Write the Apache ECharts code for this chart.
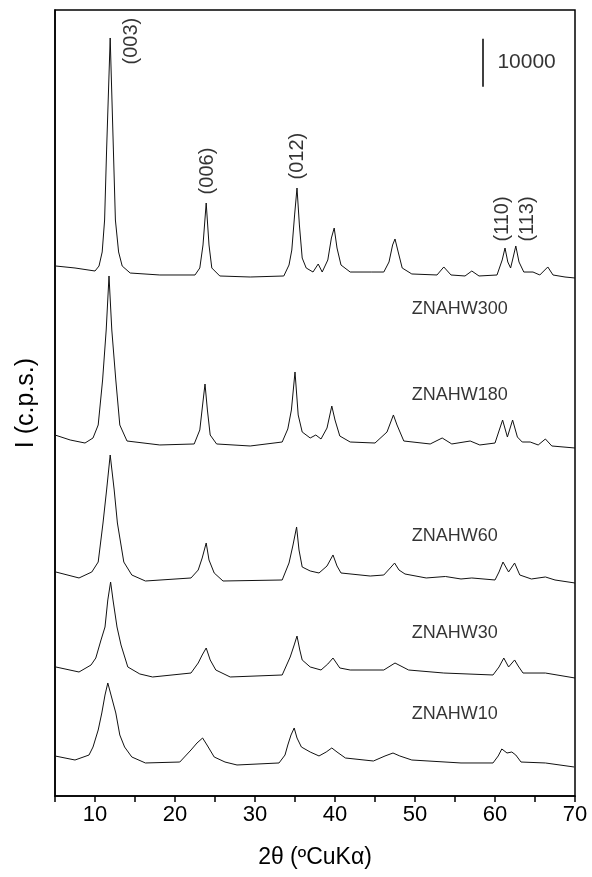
<!DOCTYPE html>
<html>
<head>
<meta charset="utf-8">
<title>XRD ZNAHW</title>
<style>
  html, body { margin: 0; padding: 0; background: #fff; }
  #chart { width: 592px; height: 877px; }
</style>
</head>
<body>
<div id="chart"></div>
<script src="https://cdn.jsdelivr.net/npm/echarts@6/dist/echarts.min.js"></script>
<script>
// [2theta, intensity c.p.s.], curves are stacked with offsets as plotted
const znahw300 = [
  [5.0,110600],[7.5,110170],[10.0,109540],[10.5,110580],[10.9,113510],[11.2,120180],[11.45,134790],
  [11.9,158160],[12.3,134790],[12.55,120180],[12.95,113510],[13.4,110580],[14.4,109120],[18.1,108710],
  [22.5,108710],[23.1,110170],[23.5,114970],[23.9,123730],[24.25,114970],[24.6,110170],[25.6,108500],
  [29.4,108290],[33.6,108500],[34.25,110790],[34.6,113920],[34.95,121230],[35.25,126860],[35.55,119140],
  [35.9,112250],[36.4,110170],[37.25,109330],[37.9,111000],[38.4,109330],[39.1,111840],[39.55,116430],
  [39.9,118510],[40.25,114340],[40.75,110790],[41.9,109330],[44.6,109330],[46.1,109330],[46.75,111420],
  [47.2,114970],[47.5,116220],[47.9,113510],[48.4,110170],[49.6,108920],[52.75,108710],[53.6,110380],
  [54.5,108710],[56.25,108500],[57.1,109540],[58.0,108500],[60.25,108710],[60.9,111840],[61.25,114340],
  [61.6,111420],[61.95,110170],[62.25,112250],[62.6,114760],[63.0,111420],[63.6,109330],[64.75,109330],
  [65.6,108710],[66.6,110380],[67.25,108710],[68.75,108290],[70.0,108080]
];
const znahw180 = [
  [5.0,75320],[6.9,74280],[8.75,73650],[9.75,74700],[10.4,77410],[10.95,86800],[11.4,97230],
  [11.75,108500],[12.1,97230],[12.6,86800],[13.1,77410],[14.0,74070],[18.1,73240],[22.4,73450],
  [23.1,76370],[23.45,81580],[23.75,85960],[24.05,80540],[24.4,75320],[25.2,73450],[29.4,73030],
  [33.4,73860],[34.1,76580],[34.55,80540],[35.0,88470],[35.4,79500],[35.9,75950],[36.9,74700],
  [37.6,75320],[38.25,74490],[39.0,76780],[39.6,81370],[40.0,78450],[40.6,75110],[41.9,73860],
  [45.0,73650],[46.5,75950],[47.3,79500],[47.75,77410],[48.6,74070],[51.9,73450],[53.4,74700],
  [54.6,73450],[56.9,74070],[58.1,73240],[60.0,73650],[60.95,78450],[61.55,74900],[62.2,78450],
  [62.8,74900],[63.4,73860],[64.4,73860],[65.4,73240],[66.3,74490],[67.1,73030],[70.0,72610]
];
const znahw60 = [
  [5.1,46740],[8.0,45490],[9.6,46740],[10.4,48820],[11.0,56960],[11.45,63850],[11.9,71150],
  [12.4,63850],[12.8,56960],[13.6,48820],[14.6,46110],[16.3,44860],[22.0,45490],[22.9,47150],
  [23.4,49660],[23.9,52790],[24.25,49240],[24.9,46530],[26.0,44860],[33.4,45070],[34.25,48610],
  [34.75,52370],[35.2,56130],[35.5,51330],[35.9,47780],[36.9,46950],[38.0,46530],[39.0,47990],
  [39.75,50290],[40.25,47990],[40.75,46530],[44.4,45900],[46.1,46110],[46.9,47570],[47.45,48610],
  [48.0,47150],[48.75,46320],[51.4,45490],[53.8,45800],[55.75,45280],[57.1,45490],[60.0,45070],
  [60.5,46740],[61.0,48820],[61.7,46740],[62.45,48610],[63.1,46110],[64.55,45280],[66.3,45700],
  [67.5,45070],[70.0,44440]
];
const znahw30 = [
  [5.1,26920],[8.0,25870],[9.5,27330],[10.1,28790],[10.75,32550],[11.25,35260],[11.6,40900],
  [11.95,44650],[12.25,40900],[12.75,35260],[13.25,31510],[14.1,26920],[15.6,25460],[17.2,24830],
  [22.0,25660],[22.9,27750],[23.4,29420],[23.9,30880],[24.4,28380],[25.1,26290],[26.9,24830],
  [33.4,25250],[34.4,29000],[34.9,31510],[35.25,33380],[35.6,30460],[35.9,28380],[36.9,26920],
  [38.25,26290],[39.1,27540],[39.75,28790],[40.6,26710],[41.9,26290],[46.1,26290],[47.5,27750],
  [49.2,26290],[53.6,25660],[59.75,25250],[60.5,26920],[61.1,28790],[61.7,26920],[62.45,28380],
  [62.9,27120],[63.5,25660],[66.3,25660],[70.0,24620]
];
const znahw10 = [
  [5.0,8350],[7.5,7510],[9.25,8550],[9.75,10220],[10.4,13770],[10.85,17320],[11.25,21070],
  [11.6,23580],[12.0,21070],[12.6,17320],[13.1,12730],[13.7,10220],[14.6,8140],[16.3,6890],
  [20.6,7090],[22.0,9600],[22.75,11060],[23.45,12100],[24.0,10640],[24.9,8140],[26.25,7090],
  [27.75,6470],[33.0,6890],[33.75,8550],[34.1,10640],[34.5,12730],[34.9,14190],[35.25,12100],
  [35.8,10220],[36.9,9180],[38.0,8350],[38.9,9180],[39.6,10020],[40.25,9180],[41.3,7930],
  [44.8,7300],[46.25,8350],[47.25,8970],[48.1,8350],[49.6,7510],[55.75,6890],[59.75,6890],
  [60.4,8350],[60.85,9810],[61.5,8970],[62.1,9180],[62.6,8550],[63.25,7090],[66.3,6890],
  [69.9,6050]
];

// sample names, left edge of each label
const sampleNames = ['ZNAHW300', 'ZNAHW180', 'ZNAHW60', 'ZNAHW30', 'ZNAHW10'];
const sampleLabelPos = [[49.6,101600],[49.6,83700],[49.6,54300],[49.6,34000],[49.6,17100]];

// reflections marked on the top pattern
const peakNames = ['(003)', '(006)', '(012)', '(110)', '(113)'];
const peakLabelPos = [[14.5,157500],[24.0,130400],[35.25,133500],[60.9,120400],[64.0,120400]];

// scale bar: 10000 c.p.s.
const scaleBar = [[58.5,148000],[58.5,158000]];
const scaleText = '10000';
const scaleTextPos = [60.3,153100];

const curves = [znahw300, znahw180, znahw60, znahw30, znahw10];
const FONT = '"Liberation Sans", Arial, sans-serif';

let chart = echarts.init(document.getElementById('chart'));

let series = curves.map((d, i) => ({
  name: sampleNames[i],
  type: 'line',
  data: d,
  symbol: 'none',
  smooth: false,
  lineStyle: { color: '#111', width: 1 },
  silent: true
}));

series.push({
  type: 'line',
  data: scaleBar,
  symbol: 'none',
  lineStyle: { color: '#000', width: 1.5 },
  silent: true
});

// sample names and scale text, left aligned at the point
series.push({
  type: 'scatter',
  symbolSize: 0,
  silent: true,
  itemStyle: { color: '#000' },
  data: sampleNames.map((n, i) => ({ name: n, value: sampleLabelPos[i] }))
    .concat([{ name: scaleText, value: scaleTextPos, label: { fontSize: 21 } }]),
  label: {
    show: true,
    position: 'right',
    distance: 0,
    formatter: p => p.name,
    color: '#000',
    textBorderWidth: 0,
    fontFamily: FONT,
    fontSize: 18
  }
});

series.push({
  type: 'scatter',
  symbolSize: 0,
  silent: true,
  itemStyle: { color: '#000' },
  data: peakNames.map((n, i) => ({ name: n, value: peakLabelPos[i] })),
  label: {
    show: true,
    position: 'inside',
    rotate: 90,
    formatter: p => p.name,
    color: '#000',
    textBorderWidth: 0,
    fontFamily: FONT,
    fontSize: 20
  }
});

chart.setOption({
  animation: false,
  backgroundColor: '#fff',
  grid: {
    left: 55, right: 17, top: 10, bottom: 81,
    show: true, borderColor: '#000', borderWidth: 1.5
  },
  xAxis: {
    type: 'value',
    min: 5, max: 70, interval: 5,
    name: '2θ (ºCuKα)',
    nameLocation: 'middle',
    nameGap: 50,
    nameTextStyle: { color: '#000', fontFamily: FONT, fontSize: 23 },
    axisLine: { onZero: false, lineStyle: { color: '#000', width: 1.5 } },
    axisTick: { show: true, inside: false, length: 6, lineStyle: { color: '#000', width: 1.5 } },
    axisLabel: {
      color: '#000', fontFamily: FONT, fontSize: 22, margin: 8,
      formatter: v => (v % 10 === 0 ? String(v) : '')
    },
    splitLine: { show: false }
  },
  yAxis: {
    type: 'value',
    min: 0, max: 164000,
    name: 'I (c.p.s.)',
    nameLocation: 'middle',
    nameGap: 16,
    nameTextStyle: { color: '#000', fontFamily: FONT, fontSize: 25 },
    axisLine: { show: true, lineStyle: { color: '#000', width: 1.5 } },
    axisTick: { show: false },
    axisLabel: { show: false },
    splitLine: { show: false }
  },
  series: series
});
</script>
</body>
</html>
